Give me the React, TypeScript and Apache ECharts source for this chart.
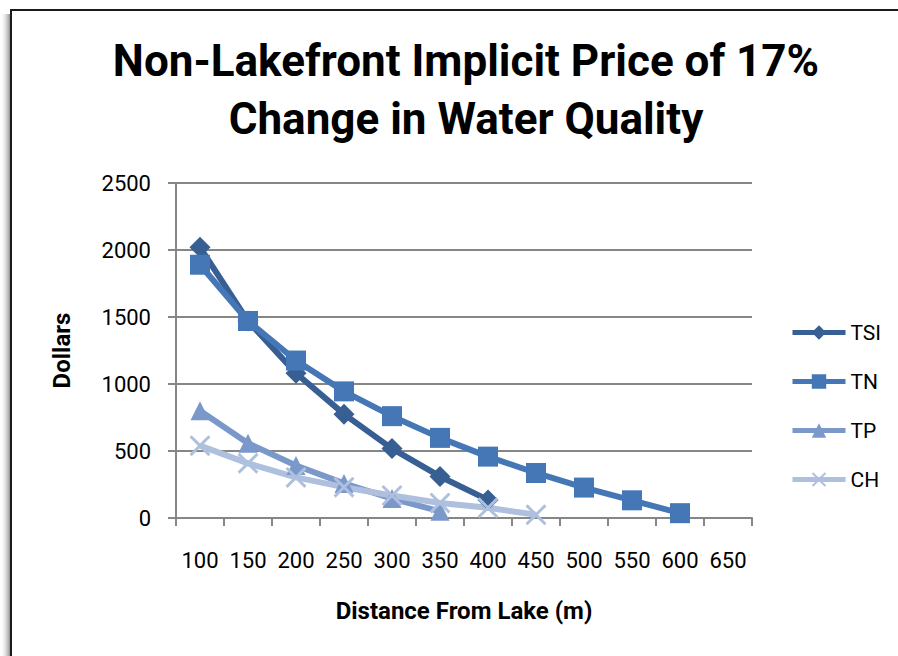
import React, { useEffect, useRef } from "react";
import * as echarts from "echarts";

const categories = ["100", "150", "200", "250", "300", "350", "400", "450", "500", "550", "600", "650"];
const tsi = [2020, 1470, 1080, 775, 518, 310, 135, null, null, null, null, null];
const tn = [1890, 1470, 1175, 945, 760, 598, 458, 336, 227, 132, 36, null];
const tp = [800, 558, 392, 258, 145, 50, null, null, null, null, null, null];
const ch = [540, 408, 303, 230, 168, 112, 76, 24, null, null, null, null];
const yTicks = { min: 0, max: 2500, interval: 500 };

const FONT = "Roboto, 'Open Sans', sans-serif";
const crossPath =
  "path://M0,1 L1,0 L5,4 L9,0 L10,1 L6,5 L10,9 L9,10 L5,6 L1,10 L0,9 L4,5 Z";

export default function App() {
  const ref = useRef<HTMLDivElement>(null);
  useEffect(() => {
    if (!ref.current) return;
    const chart = echarts.init(ref.current, null, { renderer: "svg" });
    const mk = (name: string, data: any[], color: string, symbol: string, size: number) => ({
      name,
      type: "line",
      data,
      symbol,
      symbolSize: size,
      showAllSymbol: true,
      connectNulls: false,
      lineStyle: { color, width: 6 },
      itemStyle: { color },
      z: 3,
    });
    chart.setOption({
      animation: false,
      backgroundColor: "#ffffff",
      textStyle: { fontFamily: FONT },
      title: {
        text: "Non-Lakefront Implicit Price of 17%\nChange in Water Quality",
        left: 461,
        top: 27,
        textAlign: "center",
        textStyle: {
          fontFamily: FONT,
          fontSize: 44,
          fontWeight: "bold",
          color: "#000",
          lineHeight: 58,
        },
      },
      graphic: [
        {
          type: "rect",
          shape: { x: 0, y: 14, width: 10, height: 660 },
          style: {
            fill: new echarts.graphic.LinearGradient(0, 0, 1, 0, [
              { offset: 0, color: "rgba(255,255,255,0)" },
              { offset: 1, color: "rgba(120,120,120,0.8)" },
            ]),
          },
          silent: true,
        },
        {
          type: "rect",
          shape: { x: 11, y: 10, width: 900, height: 700 },
          style: { fill: "none", stroke: "#1a1a1a", lineWidth: 2 },
          silent: true,
        },
      ],
      grid: { left: 176, right: 146, top: 183, bottom: 138 },
      legend: {
        orient: "vertical",
        left: 785,
        top: 317,
        itemWidth: 53,
        itemHeight: 18,
        itemGap: 28,
        lineStyle: { width: 5 },
        textStyle: { fontFamily: FONT, fontSize: 21, color: "#000", padding: [0, 0, 0, 0] },
        data: ["TSI", "TN", "TP", "CH"],
      },
      xAxis: {
        type: "category",
        data: categories,
        boundaryGap: true,
        name: "Distance From Lake (m)",
        nameLocation: "middle",
        nameGap: 81,
        nameTextStyle: { fontFamily: FONT, fontSize: 24, fontWeight: "bold", color: "#000" },
        axisLine: { lineStyle: { color: "#868686", width: 2 } },
        axisTick: { show: true, length: 8, interval: 0, lineStyle: { color: "#868686", width: 2 } },
        axisLabel: { interval: 0, margin: 31, fontFamily: FONT, fontSize: 22, color: "#000" },
        splitLine: { show: false },
      },
      yAxis: {
        type: "value",
        min: yTicks.min,
        max: yTicks.max,
        interval: yTicks.interval,
        name: "Dollars",
        nameLocation: "middle",
        nameGap: 102,
        nameRotate: 90,
        nameTextStyle: { fontFamily: FONT, fontSize: 24, fontWeight: "bold", color: "#000" },
        axisLine: { show: true, lineStyle: { color: "#868686", width: 2 } },
        axisTick: { show: true, length: 8, lineStyle: { color: "#868686", width: 2 } },
        axisLabel: {
          margin: 25,
          fontFamily: FONT,
          fontSize: 22,
          color: "#000",
          formatter: (v: number) => String(v),
        },
        splitLine: { show: true, lineStyle: { color: "#868686", width: 2 } },
      },
      series: [
        mk("TSI", tsi, "#375F93", "diamond", 21),
        mk("TN", tn, "#4577B6", "rect", 20),
        mk("TP", tp, "#7B98CB", "triangle", 19),
        mk("CH", ch, "#AEC0DE", crossPath, 21),
      ],
    });
    return () => chart.dispose();
  }, []);
  return (
    <div
      ref={ref}
      style={{ position: "absolute", left: 0, top: 0, width: 898, height: 656 }}
    />
  );
}
